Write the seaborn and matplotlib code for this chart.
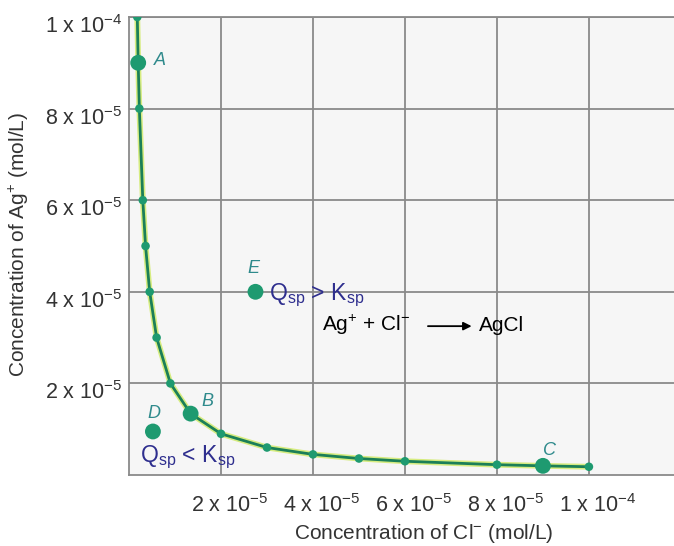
import matplotlib
matplotlib.use("Agg")
import matplotlib.pyplot as plt
import matplotlib.transforms as mtransforms
import seaborn as sns
import pandas as pd

# ---- data ----
curve_x = [1.8e-6, 2.0e-6, 2.25e-6, 3.0e-6, 3.6e-6, 4.5e-6, 6.0e-6, 9.0e-6, 1.34e-5,
           2.0e-5, 3.0e-5, 4.0e-5, 5.0e-5, 6.0e-5, 8.0e-5, 9.0e-5, 1.0e-4]
curve_y = [1.0e-4, 9.0e-5, 8.0e-5, 6.0e-5, 5.0e-5, 4.0e-5, 3.0e-5, 2.0e-5, 1.34e-5,
           9.0e-6, 6.0e-6, 4.5e-6, 3.6e-6, 3.0e-6, 2.25e-6, 2.0e-6, 1.8e-6]

point_names = ["A", "B", "C", "D", "E"]
point_x = [2.0e-6, 1.34e-5, 9.0e-5, 5.2e-6, 2.75e-5]
point_y = [9.0e-5, 1.34e-5, 2.0e-6, 9.5e-6, 4.0e-5]

tick_vals = [2e-5, 4e-5, 6e-5, 8e-5, 1e-4]
tick_labels = ["2 x 10$^{-5}$", "4 x 10$^{-5}$", "6 x 10$^{-5}$", "8 x 10$^{-5}$", "1 x 10$^{-4}$"]

x_label = "Concentration of Cl$^{-}$ (mol/L)"
y_label = "Concentration of Ag$^{+}$ (mol/L)"

# ---- style ----
sns.set_theme(style="whitegrid")
plt.rcParams["font.family"] = ["Liberation Sans", "DejaVu Sans"]
plt.rcParams["mathtext.fontset"] = "custom"
plt.rcParams["mathtext.rm"] = "Liberation Sans"
plt.rcParams["mathtext.it"] = "Liberation Sans:italic"
plt.rcParams["mathtext.bf"] = "Liberation Sans:bold"
plt.rcParams["mathtext.default"] = "regular"

fig = plt.figure(figsize=(6.74, 5.46), dpi=100)
ax = fig.add_axes([129 / 674, 71 / 546, 545 / 674, 458 / 546])
ax.set_facecolor("#f6f6f6")

curve = pd.DataFrame({"x": curve_x, "y": curve_y})
pts = pd.DataFrame({"x": point_x, "y": point_y, "name": point_names})

# curve: glow + line + small dots
sns.lineplot(data=curve, x="x", y="y", ax=ax, color="#d6ec80", linewidth=4.2,
             sort=False, zorder=3)
sns.lineplot(data=curve, x="x", y="y", ax=ax, color="#1b7f58", linewidth=2.0,
             sort=False, zorder=4)
sns.scatterplot(data=curve, x="x", y="y", ax=ax, color="#1e9a70", s=38,
                edgecolor="none", zorder=5)
# labelled points
sns.scatterplot(data=pts, x="x", y="y", ax=ax, color="#1e9a70", s=130,
                edgecolor="none", zorder=6)

lab_col = "#2f8a8c"
lab_off = {"A": (0.48e-5, 0.05e-5), "B": (0.37e-5, 0.27e-5), "C": (0.15e-5, 0.33e-5),
           "D": (0.03e-5, 0.40e-5), "E": (-0.04e-5, 0.50e-5)}
for n, x, y in zip(point_names, point_x, point_y):
    dx, dy = lab_off[n]
    ax.text(x + dx, y + dy, n, color=lab_col, fontsize=13, style="italic",
            ha="center", va="center", zorder=7)

navy = "#2e2e8e"
q_size = 16.5
ax.text(3.05e-5, 3.93e-5, "Q$_{sp}$ > K$_{sp}$", color=navy,
        fontsize=q_size, ha="left", va="center", zorder=7)
ax.text(0.25e-5, 0.38e-5, "Q$_{sp}$ < K$_{sp}$", color=navy,
        fontsize=q_size, ha="left", va="center", zorder=7)

r_size = 15
ax.text(4.2e-5, 3.27e-5, "Ag$^{+}$ + Cl$^{-}$", color="black", fontsize=r_size,
        ha="left", va="center", zorder=7)
ax.annotate("", xy=(7.45e-5, 3.25e-5), xytext=(6.5e-5, 3.25e-5),
            arrowprops=dict(arrowstyle="-|>", color="black", lw=1.3,
                            mutation_scale=12, shrinkA=0, shrinkB=0), zorder=7)
ax.text(7.6e-5, 3.27e-5, "AgCl", color="black", fontsize=r_size,
        ha="left", va="center", zorder=7)

# ---- axes ----
ax.set_xlim(0, 1.185e-4)
ax.set_ylim(0, 1.0e-4)
ax.set_xticks(tick_vals)
ax.set_xticklabels(tick_labels)
ax.set_yticks(tick_vals)
ax.set_yticklabels(tick_labels)
ax.grid(True, color="#8a8a8a", linewidth=1.3)
ax.set_axisbelow(True)

for s in ["left", "bottom", "top"]:
    ax.spines[s].set_visible(True)
    ax.spines[s].set_color("#8a8a8a")
    ax.spines[s].set_linewidth(1.3)
ax.spines["right"].set_visible(False)

ax.tick_params(axis="both", length=3, color="#8a8a8a", labelsize=15.5,
               labelcolor="#333333", pad=2)
ax.tick_params(axis="x", pad=11)

xshift = mtransforms.ScaledTranslation(9 / 100, 0, fig.dpi_scale_trans)
for lab in ax.get_xticklabels():
    lab.set_transform(lab.get_transform() + xshift)
yshift = mtransforms.ScaledTranslation(0, -7 / 100, fig.dpi_scale_trans)
for lab in ax.get_yticklabels():
    lab.set_transform(lab.get_transform() + yshift)

ax.set_xlabel(x_label, fontsize=15, color="#333333")
ax.set_ylabel(y_label, fontsize=15, color="#333333")
ax.xaxis.set_label_coords((424 - 129) / 545, -(522 - 475) / 458)
ax.yaxis.set_label_coords(-(129 - 31) / 545, (475 - 244) / 458)

fig.savefig("out.png", dpi=100, facecolor="white")
